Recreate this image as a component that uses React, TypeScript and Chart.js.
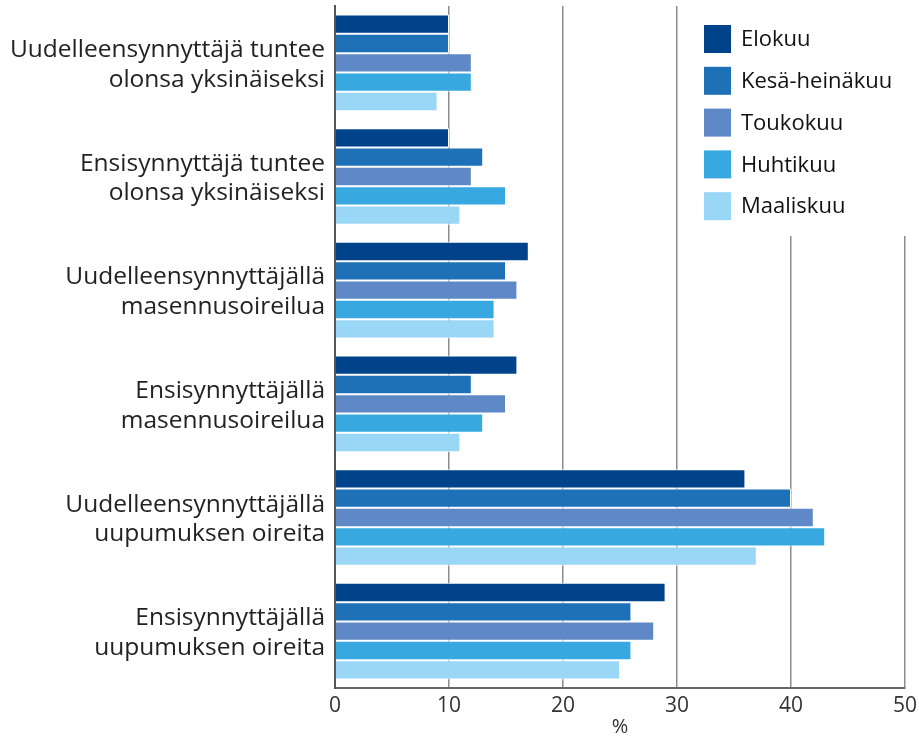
import React, { useEffect, useRef } from "react";
import { Chart, registerables } from "chart.js";

Chart.register(...registerables);

const categories: string[][] = [
  ["Uudelleensynnyttäjä tuntee", "olonsa yksinäiseksi"],
  ["Ensisynnyttäjä tuntee", "olonsa yksinäiseksi"],
  ["Uudelleensynnyttäjällä", "masennusoireilua"],
  ["Ensisynnyttäjällä", "masennusoireilua"],
  ["Uudelleensynnyttäjällä", "uupumuksen oireita"],
  ["Ensisynnyttäjällä", "uupumuksen oireita"],
];

const seriesNames = ["Elokuu", "Kesä-heinäkuu", "Toukokuu", "Huhtikuu", "Maaliskuu"];
const seriesColors = ["#00438a", "#1e70b7", "#5e89c6", "#37a9e0", "#9ad7f7"];

const elokuu = [10, 10, 17, 16, 36, 29];
const kesaHeinakuu = [10, 13, 15, 12, 40, 26];
const toukokuu = [12, 12, 16, 15, 42, 28];
const huhtikuu = [12, 15, 14, 13, 43, 26];
const maaliskuu = [9, 11, 14, 11, 37, 25];

const seriesValues = [elokuu, kesaHeinakuu, toukokuu, huhtikuu, maaliskuu];

const xTicks = [0, 10, 20, 30, 40, 50];
const xTitle = "%";

const FONT = "'Open Sans', 'Noto Sans', sans-serif";

// Legend drawn in the upper right corner on a white panel above the grid
const cornerLegend = {
  id: "cornerLegend",
  afterDraw(chart: Chart) {
    const ctx = chart.ctx;
    ctx.save();
    ctx.fillStyle = "#ffffff";
    ctx.fillRect(688, 0, chart.width - 688, 236);
    ctx.font = `22px ${FONT}`;
    ctx.textBaseline = "middle";
    ctx.textAlign = "left";
    chart.data.datasets.forEach((ds, i) => {
      const cy = 39 + i * 41.8;
      ctx.fillStyle = ds.backgroundColor as string;
      ctx.fillRect(704, cy - 14, 27, 28);
      ctx.fillStyle = "#111111";
      ctx.fillText(ds.label as string, 741, cy + 1);
    });
    ctx.restore();
  },
};

export default function App() {
  const ref = useRef<HTMLCanvasElement | null>(null);

  useEffect(() => {
    if (!ref.current) return;
    const chart = new Chart(ref.current, {
      type: "bar",
      data: {
        labels: categories,
        datasets: seriesNames.map((name, i) => ({
          label: name,
          data: seriesValues[i],
          backgroundColor: seriesColors[i],
          borderColor: "#ffffff",
          borderWidth: 1,
          categoryPercentage: 0.85,
          barPercentage: 1.0,
        })),
      },
      plugins: [cornerLegend],
      options: {
        indexAxis: "y",
        animation: false,
        responsive: false,
        devicePixelRatio: 1,
        layout: { padding: { top: 6, right: 14, left: 0, bottom: 0 } },
        plugins: {
          legend: { display: false },
          tooltip: { enabled: false },
        },
        scales: {
          x: {
            min: 0,
            max: 50,
            afterBuildTicks: (scale: any) => {
              scale.ticks = xTicks.map((v) => ({ value: v }));
            },
            afterFit: (scale: any) => {
              scale.height = 51;
              scale.paddingLeft = 0;
              scale.paddingRight = 0;
            },
            grid: {
              color: "#8c8c8c",
              lineWidth: 1.5,
              drawTicks: false,
            },
            border: { display: true, color: "#666666", width: 2 },
            ticks: {
              padding: 5,
              color: "#333333",
              font: { family: FONT, size: 21 },
            },
            title: {
              display: true,
              text: xTitle,
              color: "#333333",
              padding: 0,
              font: { family: FONT, size: 20, lineHeight: 1.2 },
            },
          },
          y: {
            afterFit: (scale: any) => {
              scale.width = 335;
              scale.paddingTop = 0;
              scale.paddingBottom = 0;
            },
            grid: { display: false, drawTicks: false },
            border: { display: true, color: "#555555", width: 2 },
            ticks: {
              padding: 10,
              labelOffset: 2,
              color: "#222222",
              font: { family: FONT, size: 24.5, lineHeight: 1.2 },
            },
          },
        },
      },
    });
    return () => chart.destroy();
  }, []);

  return (
    <div style={{ position: "absolute", left: 0, top: 0, width: 919, height: 739, background: "#ffffff" }}>
      <canvas ref={ref} width={919} height={739} />
    </div>
  );
}
